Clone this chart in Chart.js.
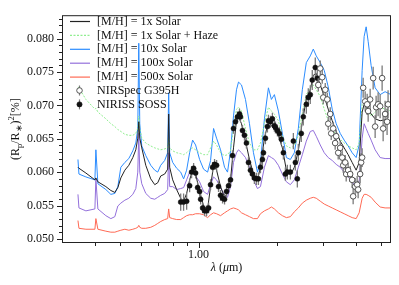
<!DOCTYPE html>
<html>
<head>
<meta charset="utf-8">
<script src="https://cdn.jsdelivr.net/npm/chart.js@4.4.1/dist/chart.umd.min.js"></script>
<style>
  html, body { margin: 0; padding: 0; background: #fff; }
  #wrap { width: 399px; height: 285px; }
</style>
</head>
<body>
<div id="wrap"><canvas id="spectrum" width="399" height="285"></canvas></div>
<script>
// model grid, microns
const modelWave = [
  0.3453, 0.3483, 0.3704, 0.4009, 0.4044, 0.4116, 0.4416, 0.4614, 0.4779, 0.4907,
  0.5039, 0.5220, 0.5406, 0.5600, 0.5749, 0.5851, 0.5902, 0.5954, 0.6060, 0.6277,
  0.6558, 0.6794, 0.6976, 0.7161, 0.7415, 0.7613, 0.7681, 0.7749, 0.7958, 0.8241,
  0.8538, 0.8762, 0.8998, 0.9240, 0.9487, 0.9739, 1.0088, 1.0449, 1.0823, 1.1112,
  1.1410, 1.1715, 1.2134, 1.2567, 1.2903, 1.3248, 1.3602, 1.3964, 1.4214, 1.4593,
  1.5115, 1.5656, 1.6217, 1.6797, 1.7246, 1.7863, 1.8501, 1.8995, 1.9503, 2.0201,
  2.0923, 2.1672, 2.2447, 2.3250, 2.4082, 2.4944, 2.5836, 2.6760, 2.7475, 2.8206,
  2.9215, 3.0260, 3.1342, 3.2463, 3.3624, 3.4827, 3.6073, 3.7363, 3.8700, 4.0084,
  4.1159, 4.2262, 4.3010, 4.3778, 4.4557, 4.5748, 4.7385, 4.9522, 5.1736, 5.4500
];

const solar1x = [
  0.06074, 0.06059, 0.05987, 0.05885, 0.05914, 0.05856, 0.05784, 0.05726, 0.05697, 0.05769,
  0.05914, 0.06030, 0.06103, 0.06219, 0.06335, 0.06509, 0.06755, 0.06509, 0.06364, 0.06103,
  0.05900, 0.05813, 0.05842, 0.05943, 0.05972, 0.06045, 0.06871, 0.06074, 0.05885, 0.05740,
  0.05610, 0.05566, 0.05682, 0.05885, 0.06030, 0.05972, 0.05711, 0.05494, 0.05450, 0.05784,
  0.06103, 0.06030, 0.05784, 0.05624, 0.05682, 0.05885, 0.06364, 0.06770, 0.06828, 0.06726,
  0.06465, 0.06190, 0.05972, 0.05885, 0.06074, 0.06509, 0.06755, 0.06697, 0.06639, 0.06552,
  0.06364, 0.06030, 0.05958, 0.06074, 0.06320, 0.06755, 0.07089, 0.07234, 0.07451, 0.07480,
  0.07306, 0.07132, 0.06944, 0.06770, 0.06610, 0.06465, 0.06364, 0.06262, 0.06146, 0.06030,
  0.06146, 0.06900, 0.07016, 0.06987, 0.06944, 0.06871, 0.06799, 0.06770, 0.06784, 0.06726
];

const solar1xHaze = [
  0.07277, 0.07263, 0.07089, 0.06944, 0.06958, 0.06900, 0.06799, 0.06726, 0.06683, 0.06639,
  0.06610, 0.06567, 0.06552, 0.06552, 0.06581, 0.06654, 0.06842, 0.06654, 0.06509, 0.06436,
  0.06393, 0.06364, 0.06349, 0.06335, 0.06349, 0.06364, 0.06509, 0.06364, 0.06320, 0.06291,
  0.06277, 0.06262, 0.06291, 0.06335, 0.06364, 0.06335, 0.06291, 0.06262, 0.06262, 0.06364,
  0.06465, 0.06407, 0.06291, 0.06248, 0.06262, 0.06320, 0.06654, 0.06944, 0.06973, 0.06915,
  0.06654, 0.06436, 0.06335, 0.06335, 0.06436, 0.06726, 0.06973, 0.06915, 0.06871, 0.06770,
  0.06538, 0.06393, 0.06364, 0.06393, 0.06552, 0.06871, 0.07161, 0.07263, 0.07306, 0.07234,
  0.07132, 0.06944, 0.06770, 0.06654, 0.06552, 0.06494, 0.06436, 0.06393, 0.06364, 0.06335,
  0.06436, 0.07016, 0.07045, 0.06973, 0.06900, 0.06842, 0.06900, 0.06973, 0.06944, 0.06915
];

const solar10x = [
  0.06190, 0.05972, 0.05929, 0.05885, 0.06335, 0.05827, 0.05740, 0.05668, 0.05682, 0.05784,
  0.06074, 0.06146, 0.06204, 0.06320, 0.06436, 0.06654, 0.07930, 0.06726, 0.06393, 0.06248,
  0.06103, 0.06030, 0.06001, 0.06103, 0.06175, 0.06291, 0.07190, 0.06291, 0.06146, 0.06059,
  0.06001, 0.05900, 0.06030, 0.06291, 0.06480, 0.06407, 0.06190, 0.06045, 0.06001, 0.06175,
  0.06654, 0.06509, 0.06335, 0.06074, 0.06001, 0.06320, 0.06842, 0.07234, 0.07349, 0.07306,
  0.07089, 0.06726, 0.06291, 0.06001, 0.06146, 0.06799, 0.07263, 0.07089, 0.07161, 0.06915,
  0.06581, 0.06219, 0.06190, 0.06291, 0.06654, 0.07234, 0.07640, 0.07741, 0.07843, 0.07741,
  0.07640, 0.07524, 0.07277, 0.06944, 0.06726, 0.06581, 0.06480, 0.06393, 0.06291, 0.06219,
  0.06407, 0.07524, 0.08031, 0.08176, 0.07959, 0.07596, 0.07263, 0.07161, 0.07205, 0.07161
];

const solar100x = [
  0.05668, 0.05465, 0.05421, 0.05450, 0.05900, 0.05450, 0.05349, 0.05305, 0.05334, 0.05494,
  0.05537, 0.05581, 0.05610, 0.05668, 0.05755, 0.06001, 0.06581, 0.06001, 0.05827, 0.05682,
  0.05610, 0.05595, 0.05624, 0.05653, 0.05682, 0.05740, 0.06291, 0.05784, 0.05784, 0.05740,
  0.05755, 0.05769, 0.05885, 0.06001, 0.06001, 0.05943, 0.05856, 0.05711, 0.05668, 0.05813,
  0.05929, 0.05885, 0.05769, 0.05653, 0.05624, 0.05784, 0.06146, 0.06291, 0.06335, 0.06291,
  0.06219, 0.06074, 0.05885, 0.05755, 0.05784, 0.06074, 0.06248, 0.06219, 0.06190, 0.06103,
  0.05972, 0.05856, 0.05813, 0.05885, 0.06074, 0.06262, 0.06465, 0.06610, 0.06625, 0.06538,
  0.06407, 0.06291, 0.06219, 0.06175, 0.06117, 0.06074, 0.06001, 0.05929, 0.05856, 0.05769,
  0.05856, 0.06509, 0.06726, 0.06654, 0.06581, 0.06480, 0.06335, 0.06219, 0.06204, 0.06204
];

const solar500x = [
  0.05276, 0.05160, 0.05146, 0.05146, 0.05305, 0.05146, 0.05117, 0.05102, 0.05102, 0.05117,
  0.05131, 0.05146, 0.05131, 0.05146, 0.05160, 0.05175, 0.05204, 0.05175, 0.05160, 0.05160,
  0.05175, 0.05204, 0.05233, 0.05262, 0.05291, 0.05305, 0.05450, 0.05320, 0.05305, 0.05291,
  0.05291, 0.05320, 0.05349, 0.05363, 0.05363, 0.05378, 0.05378, 0.05363, 0.05320, 0.05363,
  0.05392, 0.05378, 0.05349, 0.05392, 0.05421, 0.05450, 0.05465, 0.05450, 0.05436, 0.05392,
  0.05363, 0.05334, 0.05305, 0.05305, 0.05378, 0.05421, 0.05450, 0.05479, 0.05450, 0.05392,
  0.05349, 0.05320, 0.05334, 0.05407, 0.05465, 0.05537, 0.05581, 0.05610, 0.05624, 0.05610,
  0.05566, 0.05523, 0.05494, 0.05465, 0.05436, 0.05407, 0.05378, 0.05349, 0.05320, 0.05305,
  0.05392, 0.05610, 0.05668, 0.05668, 0.05653, 0.05624, 0.05552, 0.05479, 0.05465, 0.05465
];

// NIRISS SOSS
const sossWave = [
  0.854, 0.876, 0.900, 0.924, 0.940, 0.957, 0.974, 0.991, 1.009, 1.018,
  1.036, 1.054, 1.073, 1.092, 1.111, 1.131, 1.151, 1.172, 1.192, 1.213,
  1.235, 1.257, 1.279, 1.302, 1.325, 1.348, 1.360, 1.384, 1.409, 1.434,
  1.446, 1.472, 1.498, 1.524, 1.552, 1.579, 1.607, 1.635, 1.664, 1.694,
  1.725, 1.755, 1.771, 1.802, 1.834, 1.850, 1.883, 1.916, 1.950, 1.968,
  2.003, 2.038, 2.074, 2.111, 2.148, 2.186, 2.245, 2.305, 2.346, 2.387,
  2.408, 2.472, 2.516, 2.584, 2.629, 2.676, 2.723, 2.796, 2.846
];
const sossDepth = [
  0.05552, 0.05552, 0.05566, 0.05798, 0.06001, 0.06059, 0.05987, 0.05769, 0.05711, 0.05595,
  0.05465, 0.05421, 0.05421, 0.05465, 0.05813, 0.06074, 0.06117, 0.06103, 0.05784, 0.05653,
  0.05610, 0.05595, 0.05711, 0.05798, 0.05885, 0.06248, 0.06654, 0.06755, 0.06828, 0.06871,
  0.06828, 0.06625, 0.06552, 0.06436, 0.06146, 0.06030, 0.05972, 0.05914, 0.05900, 0.05900,
  0.06074, 0.06190, 0.06291, 0.06509, 0.06683, 0.06770, 0.06755, 0.06799, 0.06697, 0.06668,
  0.06625, 0.06581, 0.06494, 0.06291, 0.05972, 0.06001, 0.06001, 0.06465, 0.06146, 0.05900,
  0.06291, 0.06581, 0.06828, 0.07016, 0.07118, 0.07161, 0.07379, 0.07567, 0.07408
];
const sossErr = [
  0.0013, 0.0013, 0.0013, 0.0010, 0.0009, 0.0008, 0.0008, 0.0008, 0.0008, 0.0008,
  0.0008, 0.0008, 0.0008, 0.0008, 0.0008, 0.0008, 0.0008, 0.0008, 0.0008, 0.0008,
  0.0008, 0.0008, 0.0008, 0.0008, 0.0008, 0.0008, 0.0008, 0.0008, 0.0008, 0.0008,
  0.0008, 0.0008, 0.0008, 0.0008, 0.0008, 0.0008, 0.0009, 0.0009, 0.0009, 0.0009,
  0.0009, 0.0009, 0.0009, 0.0009, 0.0009, 0.0009, 0.0009, 0.0009, 0.0009, 0.0009,
  0.0009, 0.0009, 0.0009, 0.0010, 0.0010, 0.0011, 0.0011, 0.0012, 0.0012, 0.0013,
  0.0013, 0.0013, 0.0013, 0.0014, 0.0014, 0.0014, 0.0015, 0.0015, 0.0015
];

// NIRSpec G395H
const g395hWave = [
  2.871, 2.922, 2.973, 3.000, 3.053, 3.107, 3.134, 3.190, 3.218, 3.275,
  3.332, 3.362, 3.422, 3.483, 3.545, 3.576, 3.640, 3.672, 3.736, 3.803,
  3.870, 3.904, 3.973, 4.044, 4.080, 4.153, 4.189, 4.226, 4.264, 4.340,
  4.417, 4.456, 4.535, 4.657, 4.739, 4.780, 4.865, 4.952, 5.040, 5.085,
  5.174, 5.265, 5.311
];
const g395hDepth = [
  0.07306, 0.07553, 0.07422, 0.07118, 0.07234, 0.07089, 0.06726, 0.06871, 0.06581, 0.06654,
  0.06436, 0.06538, 0.06291, 0.06364, 0.06219, 0.06103, 0.06146, 0.05972, 0.06030, 0.05972,
  0.05885, 0.05639, 0.05784, 0.05813, 0.05740, 0.05972, 0.06146, 0.06219, 0.07263, 0.07060,
  0.07016, 0.06915, 0.07089, 0.07408, 0.06683, 0.06973, 0.07016, 0.06987, 0.07408, 0.06654,
  0.06871, 0.06755, 0.07016
];
const g395hErr = [
  0.0010, 0.0012, 0.0010, 0.0010, 0.0010, 0.0010, 0.0010, 0.0010, 0.0010, 0.0010,
  0.0010, 0.0010, 0.0010, 0.0010, 0.0011, 0.0011, 0.0011, 0.0011, 0.0011, 0.0012,
  0.0012, 0.0012, 0.0013, 0.0013, 0.0013, 0.0014, 0.0014, 0.0014, 0.0015, 0.0015,
  0.0016, 0.0016, 0.0016, 0.0017, 0.0017, 0.0017, 0.0018, 0.0018, 0.0019, 0.0019,
  0.0020, 0.0020, 0.0021
];

const yMajorTicks = [0.050, 0.055, 0.060, 0.065, 0.070, 0.075, 0.080];
const xMajorTicks = [1.0];
const xMinorTicks = [0.4, 0.5, 0.6, 0.7, 0.8, 0.9, 2, 3, 4, 5];

const legendLabels = [
  '[M/H] = 1x Solar',
  '[M/H] = 1x Solar + Haze',
  '[M/H] = 10x Solar',
  '[M/H] = 100x Solar',
  '[M/H] = 500x Solar',
  'NIRSpec G395H',
  'NIRISS SOSS'
];

const SERIF = "'Liberation Serif', 'Times New Roman', serif";
const colors = {
  solar1x: '#222222',
  haze: '#90ee90',
  solar10x: '#2b8cff',
  solar100x: '#9370db',
  solar500x: '#ff6a55',
  err: '#7a7a7a'
};

function pairs(xs, ys) {
  return xs.map((v, i) => ({ x: v, y: ys[i] }));
}

function modelLine(label, values, color, order, dash) {
  return {
    label, data: pairs(modelWave, values), showLine: true,
    borderColor: color, borderWidth: 1, borderDash: dash || [],
    pointRadius: 0, tension: 0, fill: false, order
  };
}

// error bars drawn under each dataset's markers
const errorBarPlugin = {
  id: 'errorBars',
  beforeDatasetDraw(chart, args) {
    const ds = chart.data.datasets[args.index];
    if (!ds.errors) return;
    const { ctx, chartArea: a, scales: { x, y } } = chart;
    ctx.save();
    ctx.beginPath();
    ctx.rect(a.left, a.top, a.width, a.height);
    ctx.clip();
    ctx.strokeStyle = colors.err;
    ctx.lineWidth = 1.3;
    ctx.beginPath();
    ds.data.forEach((pt, i) => {
      const px = x.getPixelForValue(pt.x);
      ctx.moveTo(px, y.getPixelForValue(pt.y - ds.errors[i]));
      ctx.lineTo(px, y.getPixelForValue(pt.y + ds.errors[i]));
    });
    ctx.stroke();
    ctx.restore();
  }
};

// frame, tick marks, axis titles and legend
const decorPlugin = {
  id: 'decor',
  afterDraw(chart) {
    const { ctx, chartArea: a, scales: { x, y } } = chart;
    ctx.save();
    ctx.strokeStyle = '#222';
    ctx.lineWidth = 1;
    ctx.strokeRect(a.left + 0.5, a.top + 0.5, a.width - 1, a.height - 1);

    ctx.beginPath();
    xMajorTicks.concat(xMinorTicks).forEach(v => {
      const px = Math.round(x.getPixelForValue(v)) + 0.5;
      const len = xMajorTicks.includes(v) ? 5 : 3;
      ctx.moveTo(px, a.bottom);
      ctx.lineTo(px, a.bottom + len);
    });
    for (let k = 50; k <= 83; k++) {
      const v = k / 1000;
      const py = Math.round(y.getPixelForValue(v)) + 0.5;
      const len = k % 5 === 0 ? 5 : 3;
      ctx.moveTo(a.left, py);
      ctx.lineTo(a.left - len, py);
    }
    ctx.stroke();

    ctx.fillStyle = '#111';
    ctx.textBaseline = 'alphabetic';

    // y title: (R_p/R_*)^2[%]
    const yParts = [
      { t: '(R', s: 12, dy: 0 }, { t: 'p', s: 8.5, dy: 3 },
      { t: '/R', s: 12, dy: 0 }, { t: '\u2217', s: 8.5, dy: 3 },
      { t: ')', s: 12, dy: 0 }, { t: '2', s: 8.5, dy: -5 },
      { t: '[%]', s: 12, dy: 0 }
    ];
    ctx.save();
    ctx.translate(19, (a.top + a.bottom) / 2);
    ctx.rotate(-Math.PI / 2);
    let total = 0;
    yParts.forEach(p => { ctx.font = p.s + 'px ' + SERIF; p.w = ctx.measureText(p.t).width; total += p.w; });
    let cx = -total / 2;
    yParts.forEach(p => {
      ctx.font = p.s + 'px ' + SERIF;
      ctx.fillText(p.t, cx, p.dy);
      cx += p.w;
    });
    ctx.restore();

    // x title: λ (μm)
    const xParts = [
      { t: '\u03bb', it: true }, { t: ' (', it: false },
      { t: '\u03bc', it: true }, { t: 'm)', it: false }
    ];
    total = 0;
    xParts.forEach(p => { ctx.font = (p.it ? 'italic ' : '') + '12px ' + SERIF; p.w = ctx.measureText(p.t).width; total += p.w; });
    cx = (a.left + a.right) / 2 - total / 2;
    xParts.forEach(p => {
      ctx.font = (p.it ? 'italic ' : '') + '12px ' + SERIF;
      ctx.fillText(p.t, cx, 271);
      cx += p.w;
    });

    // legend
    const kinds = [
      { c: colors.solar1x, dash: [] }, { c: colors.haze, dash: [2, 1.5] },
      { c: colors.solar10x, dash: [] }, { c: colors.solar100x, dash: [] },
      { c: colors.solar500x, dash: [] }, { marker: 'open' }, { marker: 'filled' }
    ];
    ctx.font = '12px ' + SERIF;
    ctx.textBaseline = 'middle';
    legendLabels.forEach((label, i) => {
      const ry = 21 + i * 13.9;
      const k = kinds[i];
      if (k.marker) {
        ctx.strokeStyle = colors.err;
        ctx.lineWidth = 1.2;
        ctx.setLineDash([]);
        ctx.beginPath();
        ctx.moveTo(79.5, ry - 5);
        ctx.lineTo(79.5, ry + 5);
        ctx.stroke();
        ctx.beginPath();
        ctx.arc(79.5, ry, k.marker === 'open' ? 2.8 : 2.5, 0, Math.PI * 2);
        ctx.fillStyle = k.marker === 'open' ? '#fff' : '#111';
        ctx.fill();
        ctx.strokeStyle = k.marker === 'open' ? '#444' : '#111';
        ctx.lineWidth = 0.9;
        ctx.stroke();
      } else {
        ctx.strokeStyle = k.c;
        ctx.lineWidth = 1.2;
        ctx.setLineDash(k.dash);
        ctx.beginPath();
        ctx.moveTo(70, ry + 0.5);
        ctx.lineTo(90, ry + 0.5);
        ctx.stroke();
        ctx.setLineDash([]);
      }
      ctx.fillStyle = '#111';
      ctx.fillText(label, 97, ry + 0.5);
    });
    ctx.restore();
  }
};

const tickFont = { family: SERIF, size: 12 };

new Chart(document.getElementById('spectrum'), {
  type: 'scatter',
  data: {
    datasets: [
      {
        label: legendLabels[5], data: pairs(g395hWave, g395hDepth), errors: g395hErr,
        pointRadius: 2.8, pointBackgroundColor: '#fff', pointBorderColor: '#444',
        pointBorderWidth: 0.9, order: 0
      },
      {
        label: legendLabels[6], data: pairs(sossWave, sossDepth), errors: sossErr,
        pointRadius: 2.5, pointBackgroundColor: '#111', pointBorderColor: '#111',
        pointBorderWidth: 0.5, order: 1
      },
      modelLine(legendLabels[0], solar1x, colors.solar1x, 2),
      modelLine(legendLabels[1], solar1xHaze, colors.haze, 3, [2, 1.5]),
      modelLine(legendLabels[2], solar10x, colors.solar10x, 4),
      modelLine(legendLabels[3], solar100x, colors.solar100x, 5),
      modelLine(legendLabels[4], solar500x, colors.solar500x, 6)
    ]
  },
  options: {
    responsive: false,
    animation: false,
    devicePixelRatio: 1,
    layout: { padding: { top: 8, right: 8, left: 0, bottom: 0 } },
    plugins: { legend: { display: false }, tooltip: { enabled: false } },
    scales: {
      x: {
        type: 'logarithmic', min: 0.303, max: 5.45,
        grid: { display: false, drawTicks: false },
        border: { display: false },
        afterBuildTicks: s => { s.ticks = xMajorTicks.map(v => ({ value: v })); },
        ticks: {
          callback: v => Number(v).toFixed(2), font: tickFont, color: '#111',
          padding: 5, maxRotation: 0, autoSkip: false
        },
        afterFit: s => { s.height = 42; }
      },
      y: {
        min: 0.0494, max: 0.0835,
        grid: { display: false, drawTicks: false },
        border: { display: false },
        afterBuildTicks: s => { s.ticks = yMajorTicks.map(v => ({ value: v })); },
        ticks: { callback: v => Number(v).toFixed(3), font: tickFont, color: '#111', padding: 8 },
        afterFit: s => { s.width = 62; }
      }
    }
  },
  plugins: [errorBarPlugin, decorPlugin]
});
</script>
</body>
</html>
